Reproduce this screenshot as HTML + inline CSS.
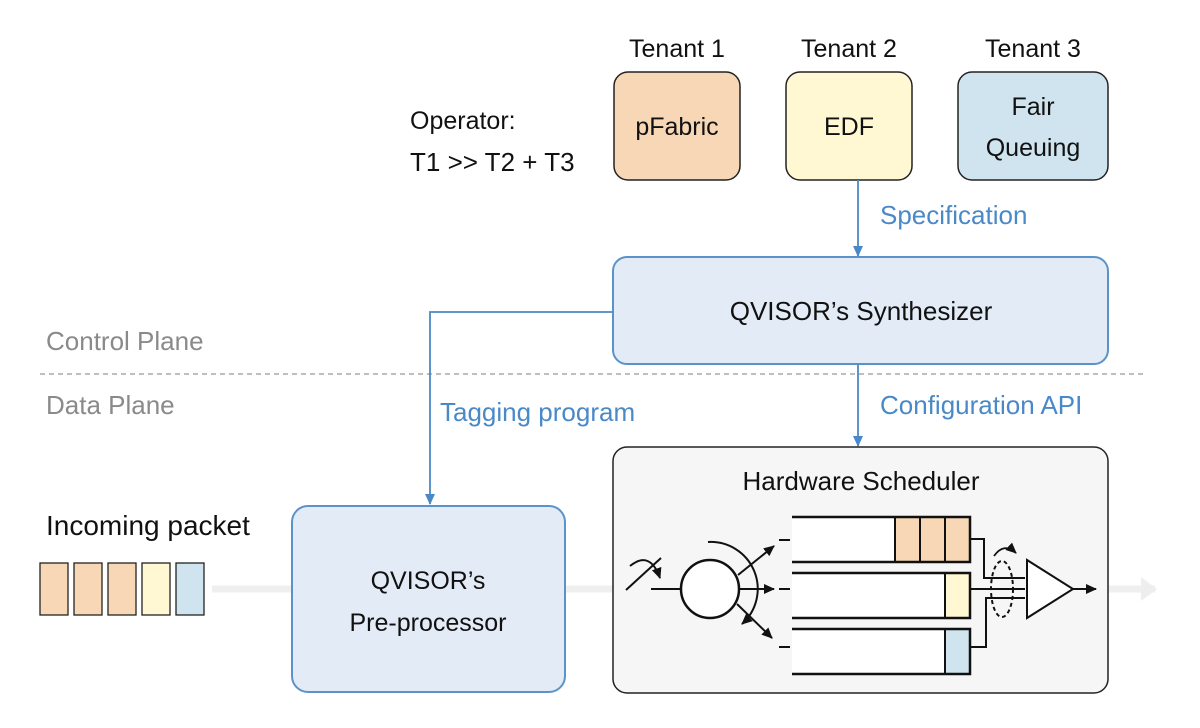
<!DOCTYPE html>
<html><head><meta charset="utf-8"><style>
html,body{margin:0;padding:0;background:#fff;}
svg{display:block;}
text{font-family:"Liberation Sans",Arial,sans-serif;}
</style></head><body>
<svg width="1200" height="728" viewBox="0 0 1200 728" xmlns="http://www.w3.org/2000/svg">
<defs>
<marker id="ab" markerWidth="12" markerHeight="12" refX="10" refY="6" orient="auto" markerUnits="userSpaceOnUse"><path d="M0,1 L11,6 L0,11 z" fill="#4a89c8"/></marker>
<marker id="ak" markerWidth="12" markerHeight="12" refX="10" refY="6" orient="auto" markerUnits="userSpaceOnUse"><path d="M0,1 L11,6 L0,11 z" fill="#111"/></marker>
<marker id="ag" markerWidth="20" markerHeight="24" refX="14" refY="12" orient="auto" markerUnits="userSpaceOnUse"><path d="M0,0 L16,12 L0,24 z" fill="#eeeeee"/></marker>
</defs>
<line x1="212" y1="589" x2="292" y2="589" stroke="#efefef" stroke-width="7"/>
<line x1="565" y1="589" x2="613" y2="589" stroke="#efefef" stroke-width="7"/>
<line x1="1108" y1="589" x2="1155" y2="589" stroke="#efefef" stroke-width="7" marker-end="url(#ag)"/>

<g font-size="25" fill="#111" text-anchor="middle">
<text x="677" y="57">Tenant 1</text>
<text x="849" y="57">Tenant 2</text>
<text x="1033" y="57">Tenant 3</text>
</g>
<rect x="614" y="72" width="126" height="108" rx="14" fill="#f7d7b5" stroke="#222" stroke-width="1.5"/>
<rect x="786" y="72" width="126" height="108" rx="14" fill="#fff8d2" stroke="#222" stroke-width="1.5"/>
<rect x="958" y="72" width="150" height="108" rx="14" fill="#cfe4ef" stroke="#222" stroke-width="1.5"/>
<g font-size="25" fill="#111" text-anchor="middle">
<text x="677" y="135">pFabric</text>
<text x="849" y="135">EDF</text>
<text x="1033" y="115">Fair</text>
<text x="1033" y="156">Queuing</text>
</g>
<text x="410" y="129" font-size="25" fill="#111">Operator:</text>
<text x="410" y="171" font-size="26" fill="#111">T1 &gt;&gt; T2 + T3</text>

<line x1="858" y1="180" x2="858" y2="256" stroke="#4a89c8" stroke-width="1.8" marker-end="url(#ab)"/>
<text x="880" y="224" font-size="26" fill="#4a89c8">Specification</text>

<rect x="613" y="257" width="495" height="107" rx="14" fill="#e3ebf6" stroke="#5b93c9" stroke-width="2"/>
<text x="861" y="320" font-size="26" fill="#111" text-anchor="middle">QVISOR’s  Synthesizer</text>

<line x1="40" y1="374" x2="1145" y2="374" stroke="#aaa" stroke-width="1.5" stroke-dasharray="5,4"/>
<text x="46" y="350" font-size="26" fill="#8a8a8a">Control Plane</text>
<text x="46" y="414" font-size="26" fill="#8a8a8a">Data Plane</text>

<polyline points="613,312 430,312 430,504" fill="none" stroke="#4a89c8" stroke-width="1.8" marker-end="url(#ab)"/>
<text x="440" y="421" font-size="26" fill="#4a89c8">Tagging program</text>

<line x1="858" y1="364" x2="858" y2="446" stroke="#4a89c8" stroke-width="1.8" marker-end="url(#ab)"/>
<text x="880" y="414" font-size="26" fill="#4a89c8">Configuration API</text>

<rect x="292" y="506" width="273" height="186" rx="16" fill="#e3ebf6" stroke="#5b93c9" stroke-width="2"/>
<text x="428" y="589" font-size="25" fill="#111" text-anchor="middle">QVISOR’s</text>
<text x="428" y="631" font-size="25" fill="#111" text-anchor="middle">Pre-processor</text>

<text x="46" y="535" font-size="28" fill="#111">Incoming packet</text>
<rect x="40" y="563" width="28" height="52" fill="#f7d7b5" stroke="#222" stroke-width="1.3"/>
<rect x="74" y="563" width="28" height="52" fill="#f7d7b5" stroke="#222" stroke-width="1.3"/>
<rect x="108" y="563" width="28" height="52" fill="#f7d7b5" stroke="#222" stroke-width="1.3"/>
<rect x="142" y="563" width="28" height="52" fill="#fff8d2" stroke="#222" stroke-width="1.3"/>
<rect x="176" y="563" width="28" height="52" fill="#cfe4ef" stroke="#222" stroke-width="1.3"/>

<rect x="613" y="447" width="495" height="246" rx="14" fill="#f6f6f6" stroke="#222" stroke-width="1.5"/>
<text x="861" y="490" font-size="26" fill="#111" text-anchor="middle">Hardware Scheduler</text>

<g stroke="#111" stroke-width="2.5" fill="none">
<rect x="792" y="517" width="178" height="45" fill="#fff" stroke="none"/>
<rect x="792" y="573" width="178" height="45" fill="#fff" stroke="none"/>
<rect x="792" y="629" width="178" height="45" fill="#fff" stroke="none"/>
<rect x="895" y="517" width="75" height="45" fill="#f7d7b5" stroke="none"/>
<rect x="945" y="573" width="25" height="45" fill="#fff8d2" stroke="none"/>
<rect x="945" y="629" width="25" height="45" fill="#cfe4ef" stroke="none"/>
<polyline points="792,517 970,517 970,562 792,562"/>
<polyline points="792,573 970,573 970,618 792,618"/>
<polyline points="792,629 970,629 970,674 792,674"/>
<line x1="895" y1="517" x2="895" y2="562" stroke-width="2"/>
<line x1="920" y1="517" x2="920" y2="562" stroke-width="2"/>
<line x1="945" y1="517" x2="945" y2="562" stroke-width="2"/>
<line x1="945" y1="573" x2="945" y2="618" stroke-width="2"/>
<line x1="945" y1="629" x2="945" y2="674" stroke-width="2"/>
<line x1="779" y1="540" x2="790" y2="540" stroke-width="2"/>
<line x1="779" y1="589" x2="790" y2="589" stroke-width="2"/>
<line x1="779" y1="647" x2="790" y2="647" stroke-width="2"/>
<circle cx="710" cy="589" r="29" fill="#fff"/>
<line x1="651" y1="589" x2="681" y2="589" stroke-width="2"/>
<line x1="626" y1="590" x2="661" y2="558" stroke-width="2"/>
<path d="M630,566 Q650,550 660,578" stroke-width="2" marker-end="url(#ak)"/>
<line x1="738" y1="575" x2="774" y2="546" stroke-width="2" marker-end="url(#ak)"/>
<line x1="739" y1="589" x2="774" y2="589" stroke-width="2" marker-end="url(#ak)"/>
<line x1="737" y1="604" x2="772" y2="638" stroke-width="2" marker-end="url(#ak)"/>
<path d="M708,542 A47,47 0 0 1 742,624" stroke-width="2" marker-end="url(#ak)"/>
<polyline points="970,539 984,539 984,578 1025,578" stroke-width="2"/>
<line x1="970" y1="589" x2="1025" y2="589" stroke-width="2"/>
<polyline points="970,647 986,647 986,598 1025,598" stroke-width="2"/>
<polygon points="1027,560 1027,618 1073,589" fill="#fff" stroke-width="2"/>
<line x1="1073" y1="589" x2="1096" y2="589" stroke-width="2" marker-end="url(#ak)"/>
<ellipse cx="1002" cy="589" rx="11" ry="28" stroke-width="2" stroke-dasharray="4,3"/>
<path d="M994,556 Q1004,542 1016,553" stroke-width="1.8" marker-end="url(#ak)"/>
</g>
</svg>
</body></html>
